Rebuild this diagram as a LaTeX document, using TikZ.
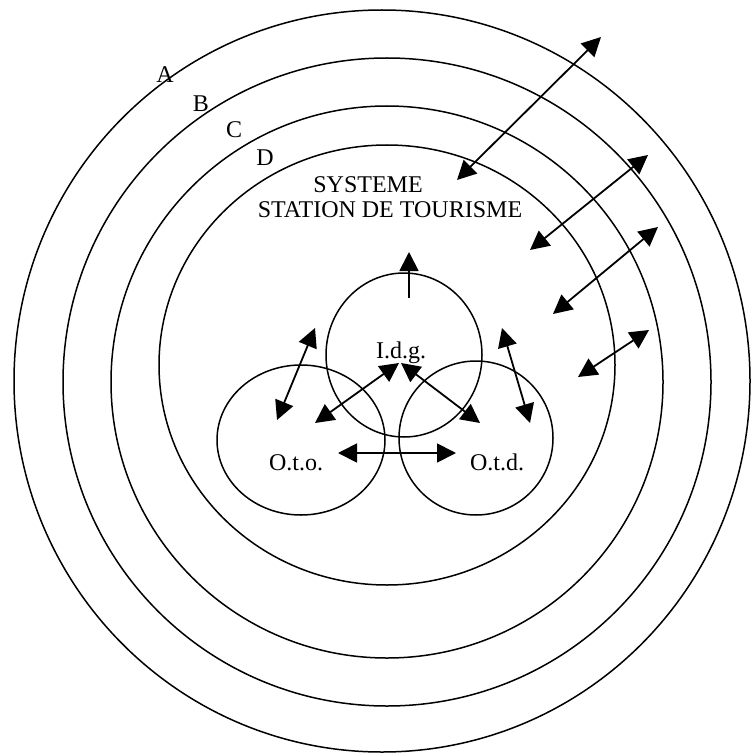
\documentclass[tikz,border=0pt]{standalone}
\usepackage{fontspec}
\setmainfont{Liberation Serif}
\usepackage{tikz}
\usetikzlibrary{arrows.meta}

\tikzset{
    ring/.style={line width=1.5pt},
    link/.style={line width=1.8pt},
    lbl/.style={inner sep=0pt, anchor=base, font=\fontsize{24}{28}\selectfont}
}

\begin{document}
\begin{tikzpicture}[x=1pt, y=-1pt, >={Triangle[length=19pt, width=19pt]}]
    \useasboundingbox (0,0) rectangle (750,754);

    % Rings A to D
    \foreach \cx/\cy/\rx/\ry in {382/381/368/371, 387/382/324/324, 387/382/276/276, 387/365/228/220} {
        \draw[ring] (\cx,\cy) ellipse [x radius=\rx, y radius=\ry];
    }
    \foreach \x/\y/\name in {165/83/A, 201/112/B, 234/138/C, 265/166/D} {
        \node[lbl] (ring\name) at (\x,\y) {\name};
    }

    % Title
    \node[lbl] (title1) at (368,193) {SYSTEME};
    \node[lbl] (title2) at (390,217) {STATION DE TOURISME};

    % Small circles
    \draw[ring] (404,355) ellipse [x radius=78, y radius=82];
    \draw[ring] (301,440) ellipse [x radius=84, y radius=75];
    \draw[ring] (476,438) ellipse [x radius=77, y radius=77];
    \node[lbl] (idg) at (401,358) {I.d.g.};
    \node[lbl] (oto) at (296,470) {O.t.o.};
    \node[lbl] (otd) at (497,470) {O.t.d.};

    % Exchanges across the rings
    \foreach \ax/\ay/\bx/\by [count=\i] in {457/180/601/37, 530/250/648/155, 553/314/658/227, 578/377/649/330} {
        \coordinate (in\i) at (\ax,\ay);
        \coordinate (out\i) at (\bx,\by);
        \draw[<->, link] (in\i) -- (out\i);
    }

    % Exchanges between the circles
    \foreach \ax/\ay/\bx/\by [count=\i] in {277/420/315/328, 530/423/502/328, 315/423/399/363, 480/423/401/363, 338/453/456/453} {
        \coordinate (p\i) at (\ax,\ay);
        \coordinate (q\i) at (\bx,\by);
        \draw[<->, link] (p\i) -- (q\i);
    }
    \coordinate (up0) at (409,298);
    \coordinate (up1) at (409,252);
    \draw[->, link] (up0) -- (up1);
\end{tikzpicture}
\end{document}
